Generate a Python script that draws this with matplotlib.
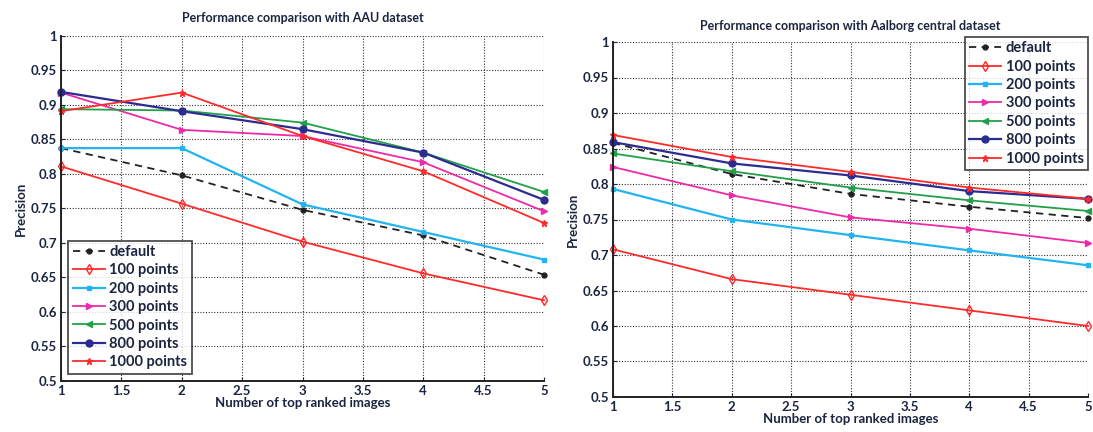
import matplotlib
matplotlib.use("Agg")
import matplotlib.pyplot as plt

plt.rcParams['font.family'] = ['Lato', 'DejaVu Sans']

x = [1, 2, 3, 4, 5]
labels = ["default", "100 points", "200 points", "300 points", "500 points", "800 points", "1000 points"]

aau_default = [0.8375, 0.798, 0.748, 0.711, 0.654]
aau_100 = [0.811, 0.757, 0.702, 0.656, 0.617]
aau_200 = [0.8375, 0.8375, 0.756, 0.716, 0.676]
aau_300 = [0.918, 0.864, 0.855, 0.817, 0.746]
aau_500 = [0.894, 0.892, 0.8745, 0.831, 0.774]
aau_800 = [0.919, 0.891, 0.865, 0.831, 0.7625]
aau_1000 = [0.891, 0.918, 0.855, 0.804, 0.729]

alb_default = [0.858, 0.814, 0.786, 0.768, 0.752]
alb_100 = [0.708, 0.666, 0.644, 0.622, 0.600]
alb_200 = [0.793, 0.750, 0.728, 0.7065, 0.6855]
alb_300 = [0.824, 0.784, 0.753, 0.737, 0.717]
alb_500 = [0.843, 0.818, 0.795, 0.777, 0.762]
alb_800 = [0.859, 0.829, 0.812, 0.790, 0.779]
alb_1000 = [0.869, 0.838, 0.817, 0.795, 0.779]

xticks = [1, 1.5, 2, 2.5, 3, 3.5, 4, 4.5, 5]
xticklabels = ["1", "1.5", "2", "2.5", "3", "3.5", "4", "4.5", "5"]
yticks = [0.5, 0.55, 0.6, 0.65, 0.7, 0.75, 0.8, 0.85, 0.9, 0.95, 1.0]
yticklabels = ["0.5", "0.55", "0.6", "0.65", "0.7", "0.75", "0.8", "0.85", "0.9", "0.95", "1"]

styles = [
    dict(color="#222222", ls=(0, (4, 3)), marker="o", ms=3.5, lw=1.3),
    dict(color="#ff2a2a", ls="-", marker="d", ms=5, mfc="none", lw=1.3),
    dict(color="#22b4f0", ls="-", marker="s", ms=3.5, lw=1.6),
    dict(color="#ee2aa8", ls="-", marker=">", ms=5, lw=1.3),
    dict(color="#22a048", ls="-", marker="<", ms=5, lw=1.3),
    dict(color="#2c2c90", ls="-", marker="o", ms=5, lw=1.6),
    dict(color="#ff2a2a", ls="-", marker="*", ms=5, lw=1.3),
]

text_color = "#1c2540"
fig = plt.figure(figsize=(10.93, 4.32), dpi=100)
W, H = 1093, 432

def make_axes(left, right, top, bottom):
    return fig.add_axes([left / W, 1 - bottom / H, (right - left) / W, (bottom - top) / H])

def style_axes(ax, title, title_pad):
    ax.set_xlim(1, 5)
    ax.set_ylim(0.5, 1.0)
    ax.set_xticks(xticks)
    ax.set_xticklabels(xticklabels)
    ax.set_yticks(yticks)
    ax.set_yticklabels(yticklabels)
    ax.grid(True, color="#333333", ls=(0, (1, 1.5)), lw=0.8)
    ax.spines['top'].set_visible(False)
    ax.spines['right'].set_visible(False)
    for s in ['left', 'bottom']:
        ax.spines[s].set_linewidth(1.4)
        ax.spines[s].set_color("#222222")
    ax.tick_params(direction="in", length=3, labelsize=9.5, colors=text_color, pad=3)
    for lab in ax.get_xticklabels() + ax.get_yticklabels():
        lab.set_fontweight("bold")
    ax.set_title(title, fontsize=9, fontweight="bold", color=text_color, pad=title_pad)
    ax.set_xlabel("Number of top ranked images", fontsize=9.5, fontweight="bold", color=text_color, labelpad=0)
    ax.set_ylabel("Precision", fontsize=9.5, fontweight="bold", color=text_color, labelpad=3)

def style_legend(leg):
    leg.get_frame().set_linewidth(1.3)
    for t in leg.get_texts():
        t.set_fontweight("bold")
        t.set_color(text_color)

leg_kw = dict(fontsize=10.5, frameon=True, fancybox=False, edgecolor="#222222",
              handlelength=2.2, handletextpad=0.3, borderpad=0.3, labelspacing=0.3)

ax1 = make_axes(61, 544, 36, 381)
series1 = [aau_default, aau_100, aau_200, aau_300, aau_500, aau_800, aau_1000]
for lab, ys, st in zip(labels, series1, styles):
    ax1.plot(x, ys, label=lab, clip_on=False, **st)
style_axes(ax1, "Performance comparison with AAU dataset", 10)
leg1 = ax1.legend(loc="lower left", bbox_to_anchor=(0.0, 0.0), borderaxespad=0.5, **leg_kw)
style_legend(leg1)

ax2 = make_axes(613, 1088, 42, 397)
series2 = [alb_default, alb_100, alb_200, alb_300, alb_500, alb_800, alb_1000]
for lab, ys, st in zip(labels, series2, styles):
    ax2.plot(x, ys, label=lab, clip_on=False, **st)
style_axes(ax2, "Performance comparison with Aalborg central dataset", 9)
leg2 = ax2.legend(loc="upper right", bbox_to_anchor=(1.0, 1.0 + 5 / 355), borderaxespad=0.0, **leg_kw)
style_legend(leg2)

fig.savefig("out.png", dpi=100)
